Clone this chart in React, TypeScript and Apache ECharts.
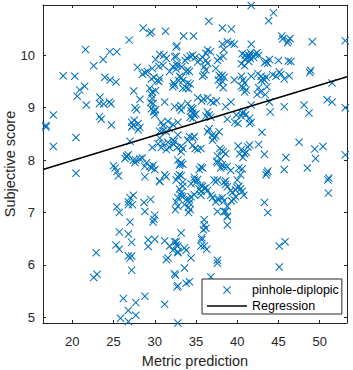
import React, { useEffect, useRef } from "react";
import * as echarts from "echarts";

// Scatter points: [metric prediction, subjective score]
const pinholeDiplopic: [number, number][] = [
  // left sparse region
  [16.8, 8.66], [16.8, 8.63], [17.7, 8.86], [17.7, 8.26], [18.9, 9.61], [20.3, 9.6], [20.45, 8.43], [20.45, 7.75],
  [20.6, 9.22], [20.9, 9.34], [21.5, 9.41], [21.7, 9.05], [21.6, 10.11], [22.6, 9.8], [23.35, 9.2], [23.3, 8.83],
  [23.5, 8.78], [23.3, 9.08], [23.8, 9.07], [24.5, 9.11], [24.7, 9.07], [23.75, 9.92], [23.95, 9.58], [24.6, 9.53],
  [25.3, 9.49], [24.55, 10.07], [25.4, 10.07], [24.75, 8.67], [22.9, 6.23], [22.6, 5.76], [23.0, 5.82],
  // 25-33 upper
  [26.9, 10.29], [28.6, 10.52], [29.4, 10.42], [29.6, 10.45], [31.3, 10.46], [25.0, 7.89], [25.2, 7.85], [25.4, 7.78],
  [25.6, 7.7], [26.6, 8.08], [27.9, 9.77], [28.8, 9.67], [28.5, 9.64], [29.1, 9.69], [29.7, 9.75], [29.6, 9.55],
  [29.9, 9.58], [30.3, 9.52], [30.6, 9.56], [30.5, 9.5], [27.45, 9.32], [29.4, 9.37], [29.7, 9.3], [30.1, 9.33],
  [29.6, 9.25], [29.7, 9.18], [29.5, 9.1], [29.8, 9.08], [28.2, 9.16], [31.2, 9.11], [27.6, 9.0], [27.8, 8.96],
  [29.6, 8.98], [30.1, 8.96], [29.9, 8.92], [32.4, 9.02], [30.6, 10.02], [31.1, 10.0], [31.4, 9.94], [30.1, 9.92],
  [31.0, 9.81], [30.5, 9.79], [32.4, 9.97], [32.7, 9.85], [32.2, 9.78], [31.8, 9.69], [32.7, 10.18], [32.3, 9.47],
  [32.2, 9.4], [32.4, 9.43],
  // 25-33 middle
  [30.0, 8.86], [29.9, 8.94], [27.2, 8.72], [27.5, 8.76], [27.4, 8.66], [28.0, 8.7], [28.2, 8.62], [28.0, 8.58],
  [27.2, 8.63], [30.8, 8.72], [31.0, 8.66], [31.6, 8.74], [31.0, 8.56], [30.6, 8.55], [31.4, 8.54], [31.8, 8.6],
  [32.2, 8.68], [32.8, 8.72], [32.8, 8.48], [32.2, 8.38], [31.6, 8.34], [31.0, 8.31], [30.6, 8.42], [30.4, 8.31],
  [30.8, 8.24], [31.4, 8.2], [31.8, 8.24], [32.3, 8.3], [32.7, 8.24], [27.0, 8.36], [29.7, 8.24], [26.8, 8.1],
  [26.4, 8.03], [26.6, 8.06], [27.4, 8.0], [27.6, 7.95], [27.7, 8.0], [28.2, 8.02], [28.5, 8.04], [29.0, 7.95],
  [28.8, 7.88], [29.4, 7.88], [29.8, 7.9], [30.0, 7.82], [29.6, 7.85], [28.8, 7.68], [30.6, 7.59], [31.2, 7.72],
  [31.4, 7.68], [30.6, 7.6], [26.8, 7.2], [26.8, 7.15], [27.0, 7.28], [27.4, 7.33], [27.3, 7.15], [28.7, 7.19],
  [29.5, 7.25], [28.8, 7.02], [25.4, 7.11], [25.7, 7.0],
  // 25-33 lower
  [30.0, 6.95], [29.9, 6.87], [29.8, 6.82], [27.0, 6.82], [25.7, 6.63], [26.8, 6.59], [27.2, 6.43], [25.3, 6.38],
  [25.7, 6.3], [29.2, 6.48], [30.0, 6.49], [29.2, 6.35], [31.2, 6.46], [31.8, 6.36], [32.4, 6.44], [32.6, 6.38],
  [32.2, 6.28], [32.8, 6.23], [31.4, 6.1], [31.6, 6.13], [26.8, 6.17], [27.2, 6.17], [27.0, 6.13], [27.2, 5.9],
  [32.4, 5.83], [32.7, 5.58], [26.2, 5.36], [27.7, 5.28], [28.8, 5.4], [31.2, 5.25], [26.8, 5.13], [27.7, 5.04],
  [25.85, 4.98], [26.8, 4.92], [32.7, 4.87],
  // 33-42 upper
  [41.7, 10.95], [36.55, 10.65], [38.2, 10.52], [39.3, 10.5], [33.5, 10.37], [34.7, 10.37], [32.6, 10.16],
  [38.2, 10.21], [38.8, 10.26], [39.25, 10.23], [39.65, 10.21], [38.4, 10.11], [41.7, 10.21], [36.4, 10.1],
  [36.2, 10.04], [36.75, 10.07], [34.3, 9.98], [34.6, 10.0], [33.9, 9.95], [33.7, 9.9], [34.9, 9.96], [35.5, 9.92],
  [35.8, 9.96], [36.2, 9.9], [36.4, 9.85], [35.2, 9.87], [32.6, 9.98], [32.7, 9.8], [33.3, 9.78], [32.6, 9.74],
  [37.6, 9.9], [37.9, 9.95], [38.3, 9.98], [40.6, 10.03], [41.0, 10.0], [41.2, 9.96], [40.9, 9.92], [41.4, 10.0],
  [40.5, 9.84], [41.6, 10.05], [40.9, 9.8], [41.4, 9.88], [34.0, 9.72], [34.2, 9.69], [33.8, 9.69], [36.0, 9.78],
  [36.2, 9.72], [36.0, 9.63], [35.8, 9.6], [37.4, 9.75], [33.0, 9.6], [33.2, 9.57], [32.9, 9.52], [33.4, 9.52],
  [37.8, 9.62], [38.0, 9.58], [38.2, 9.62], [38.4, 9.58], [37.7, 9.53], [38.2, 9.5], [37.9, 9.44], [38.3, 9.38],
  [39.65, 9.53], [40.5, 9.6], [40.7, 9.53], [40.9, 9.47], [40.5, 9.41], [40.7, 9.38], [41.1, 9.34], [40.9, 9.3],
  [33.8, 9.38], [34.1, 9.36], [33.4, 9.37], [34.3, 9.45], [34.0, 9.47], [35.2, 9.19], [35.9, 9.17], [35.7, 9.13],
  [36.4, 9.19], [36.8, 9.13], [37.1, 9.1], [37.5, 9.13], [33.0, 9.0], [33.2, 9.04], [34.0, 9.08], [34.4, 9.0],
  [34.6, 8.98], [38.6, 9.02], [39.25, 9.11],
  // 42-53 upper
  [44.4, 10.81], [43.8, 10.66], [45.4, 10.37], [45.5, 10.31], [46.4, 10.32], [46.1, 10.24], [46.2, 10.28],
  [49.1, 10.26], [53.1, 10.28], [41.5, 9.98], [42.2, 10.02], [42.4, 10.05], [42.6, 10.0], [42.0, 9.96], [41.6, 9.94],
  [43.3, 9.86], [43.5, 9.88], [43.7, 9.85], [43.9, 9.92], [45.0, 9.9], [46.2, 9.89], [46.5, 9.88], [41.7, 9.6],
  [42.5, 9.65], [42.9, 9.6], [43.1, 9.56], [43.3, 9.53], [42.9, 9.52], [43.5, 9.58], [44.3, 9.63], [44.7, 9.6],
  [45.1, 9.68], [45.3, 9.64], [45.7, 9.55], [46.3, 9.61], [48.8, 9.67], [48.9, 9.71], [42.6, 9.38], [42.8, 9.3],
  [42.4, 9.25], [43.6, 9.4], [43.4, 9.25], [51.5, 9.47], [43.9, 9.11], [45.7, 9.02], [48.1, 9.05], [50.9, 9.15],
  [51.5, 9.11], [53.1, 9.0], [41.7, 9.05], [48.7, 8.9], [44.0, 8.92],
  // 33-42 middle
  [33.2, 8.95], [34.4, 8.94], [34.6, 8.9], [34.3, 8.82], [34.8, 8.86], [34.6, 8.8], [35.0, 8.88], [36.4, 8.92],
  [36.6, 8.86], [36.2, 8.84], [36.8, 8.82], [38.8, 8.78], [39.9, 8.86], [40.5, 8.84], [40.6, 8.9], [41.0, 8.86],
  [40.8, 8.92], [40.1, 8.7], [39.7, 8.72], [36.6, 8.6], [36.4, 8.54], [37.8, 8.54], [34.2, 8.45], [34.6, 8.42],
  [34.8, 8.45], [34.0, 8.38], [37.0, 8.48], [37.2, 8.42], [37.0, 8.38], [37.4, 8.46], [32.4, 8.36], [33.2, 8.26],
  [33.4, 8.22], [33.2, 8.16], [34.6, 8.28], [34.9, 8.22], [35.2, 8.2], [35.6, 8.22], [37.9, 8.22], [38.3, 8.16],
  [38.1, 8.19], [38.6, 8.12], [37.6, 8.08], [38.0, 8.02], [37.5, 7.98], [37.6, 7.95], [40.1, 8.27], [40.5, 8.2],
  [40.9, 8.12], [41.1, 8.15], [40.3, 8.12], [40.7, 8.05], [41.3, 8.25], [32.8, 8.0], [33.2, 7.95], [33.0, 7.9],
  [33.4, 7.92], [33.1, 7.93], [35.6, 7.87], [35.8, 7.85], [35.4, 7.82], [38.2, 7.91], [38.4, 7.87], [38.0, 7.85],
  [38.8, 7.88], [39.2, 7.8], [40.2, 7.85], [40.6, 7.83], [40.4, 7.72], [33.0, 7.72], [32.8, 7.68], [33.2, 7.7],
  [32.6, 7.62], [34.8, 7.67], [35.2, 7.63], [34.4, 7.55], [35.0, 7.57], [35.6, 7.52], [35.8, 7.5], [35.4, 7.45],
  [36.2, 7.47], [36.4, 7.42], [35.6, 7.4], [37.2, 7.62], [37.4, 7.58], [38.4, 7.58], [38.6, 7.54], [38.8, 7.49],
  [40.0, 7.47], [39.8, 7.43], [39.2, 7.42], [39.4, 7.38], [33.0, 7.45], [33.2, 7.38], [33.2, 7.32], [33.4, 7.3],
  [32.8, 7.28], [34.4, 7.3], [34.8, 7.34], [34.2, 7.25], [34.2, 7.18], [35.6, 7.33], [37.0, 7.28], [37.4, 7.2],
  [38.2, 7.28], [38.4, 7.22],
  // 33-53 lower
  [33.4, 7.58], [33.4, 7.5], [34.8, 7.62], [36.0, 7.46], [36.8, 7.33], [37.6, 7.26], [37.8, 7.25], [37.6, 7.62],
  [38.6, 7.6], [40.0, 7.62], [40.2, 7.5], [40.4, 7.45], [40.6, 7.4], [40.8, 7.33], [39.8, 7.3], [39.6, 7.25],
  [39.3, 7.22], [38.8, 7.12], [38.6, 7.02], [38.8, 6.92], [38.8, 6.76], [33.9, 7.26], [34.1, 7.1], [34.3, 7.05],
  [34.1, 7.0], [33.6, 7.15], [32.6, 7.2], [32.8, 7.12], [32.5, 7.05], [51.0, 7.62], [51.05, 7.37], [43.3, 7.19],
  [43.7, 7.0], [45.1, 6.36], [45.8, 6.44], [45.1, 5.96], [36.0, 6.86], [36.0, 6.76], [35.9, 6.67], [36.2, 6.7],
  [35.7, 6.52], [35.7, 6.48], [36.0, 6.36], [35.6, 6.36], [36.3, 6.3], [37.6, 6.09], [37.6, 6.03], [36.8, 5.77],
  [33.2, 6.61], [32.6, 6.44], [32.8, 6.36], [32.8, 6.25], [33.6, 6.32], [33.8, 6.28], [34.4, 6.13], [33.6, 5.94],
  [33.8, 5.65], [34.2, 5.68], [32.8, 5.6], [32.5, 5.8], [32.8, 4.89], [37.6, 7.02], [38.4, 7.02], [38.8, 6.93],
  // 41-53 middle
  [41.5, 8.8], [41.5, 8.7], [41.7, 8.72], [43.0, 8.53], [42.6, 8.3], [41.5, 8.29], [43.3, 8.11], [47.5, 8.34],
  [49.4, 8.21], [50.4, 8.26], [49.5, 8.03], [45.9, 8.05], [53.1, 8.1], [43.7, 7.79], [43.5, 7.72], [43.6, 7.76],
  [45.7, 7.82], [48.5, 7.85], [51.1, 7.66],
];

// Regression line end points
const regressionX = [16.45, 53.31];
const regressionY = [7.82, 9.59];

const xRange = [16.45, 53.31];
const yRange = [4.891, 10.96];

const AXIS_COLOR = "#262626";
const BLUE = "#0072BD";
const FONT = "'Liberation Sans', Arial, Helvetica, sans-serif";

// Filled "x" marker outline (arm width ~1px on an 8px marker)
const t = 0.72;
const X_MARK =
  `path://M0,${t}L${t},0L4,${4 - t}L${8 - t},0L8,${t}L${4 + t},4L8,${8 - t}L${8 - t},8` +
  `L4,${4 + t}L${t},8L0,${8 - t}L${4 - t},4Z`;

export default function App() {
  const ref = useRef<HTMLDivElement>(null);
  useEffect(() => {
    document.body.style.margin = "0";
    const chart = echarts.init(ref.current!, undefined, { renderer: "svg" });
    const boxAxisLine = { show: true, onZero: false, lineStyle: { color: AXIS_COLOR, width: 1 } };
    const tickIn = { show: true, inside: true, length: 3, lineStyle: { color: AXIS_COLOR, width: 1 } };
    chart.setOption({
      animation: false,
      backgroundColor: "#fff",
      textStyle: { fontFamily: FONT },
      grid: { left: 43, right: 6, top: 5, bottom: 47, containLabel: false, outerBoundsMode: "none" },
      legend: {
        show: true,
        orient: "vertical",
        left: 202,
        top: 279,
        padding: [4, 3, 1, 5],
        itemGap: 2,
        itemWidth: 40,
        itemHeight: 8,
        symbolKeepAspect: true,
        backgroundColor: "#fff",
        borderColor: AXIS_COLOR,
        borderWidth: 1,
        borderRadius: 0,
        itemStyle: { borderWidth: 0 },
        textStyle: { fontFamily: FONT, fontSize: 12.5, color: "#000", lineHeight: 14 },
        data: [
          { name: "pinhole-diplopic", icon: X_MARK, itemStyle: { color: BLUE, borderWidth: 0 } },
          {
            name: "Regression",
            icon: "path://M0,0L40,0L40,1.5L0,1.5Z",
            itemStyle: { color: "#000", borderWidth: 0 },
          },
        ],
      },
      xAxis: [
        {
          type: "value",
          min: xRange[0],
          max: xRange[1],
          splitNumber: 7,
          position: "bottom",
          name: "Metric prediction",
          nameLocation: "middle",
          nameGap: 30,
          nameMoveOverlap: false,
          nameTextStyle: { fontFamily: FONT, fontSize: 14.5, color: AXIS_COLOR },
          axisLine: boxAxisLine,
          axisTick: tickIn,
          splitLine: { show: false },
          axisLabel: {
            showMinLabel: false,
            showMaxLabel: false,
            margin: 12,
            fontFamily: FONT,
            fontSize: 13,
            color: AXIS_COLOR,
          },
        },
        {
          type: "value",
          min: xRange[0],
          max: xRange[1],
          splitNumber: 7,
          position: "top",
          axisLine: boxAxisLine,
          axisTick: tickIn,
          splitLine: { show: false },
          axisLabel: { show: false },
        },
      ],
      yAxis: [
        {
          type: "value",
          min: yRange[0],
          max: yRange[1],
          splitNumber: 6,
          position: "left",
          name: "Subjective score",
          nameLocation: "middle",
          nameGap: 26,
          nameMoveOverlap: false,
          nameTextStyle: { fontFamily: FONT, fontSize: 14.5, color: AXIS_COLOR },
          axisLine: boxAxisLine,
          axisTick: tickIn,
          splitLine: { show: false },
          axisLabel: {
            showMinLabel: false,
            showMaxLabel: false,
            margin: 8,
            fontFamily: FONT,
            fontSize: 13,
            color: AXIS_COLOR,
          },
        },
        {
          type: "value",
          min: yRange[0],
          max: yRange[1],
          splitNumber: 6,
          position: "right",
          axisLine: boxAxisLine,
          axisTick: tickIn,
          splitLine: { show: false },
          axisLabel: { show: false },
        },
      ],
      series: [
        {
          name: "pinhole-diplopic",
          type: "scatter",
          xAxisIndex: 0,
          yAxisIndex: 0,
          symbol: X_MARK,
          symbolSize: 8,
          clip: true,
          itemStyle: { color: BLUE, borderWidth: 0, opacity: 1 },
          emphasis: { disabled: true },
          data: pinholeDiplopic,
        },
        {
          name: "Regression",
          type: "line",
          xAxisIndex: 0,
          yAxisIndex: 0,
          symbol: "none",
          showSymbol: false,
          lineStyle: { color: "#000", width: 1.5 },
          itemStyle: { color: "#000" },
          emphasis: { disabled: true },
          data: regressionX.map((x, i) => [x, regressionY[i]]),
        },
      ],
    });
    return () => chart.dispose();
  }, []);
  return (
    <div
      ref={ref}
      style={{ position: "fixed", left: 0, top: 0, width: 353, height: 370, background: "#fff" }}
    />
  );
}
